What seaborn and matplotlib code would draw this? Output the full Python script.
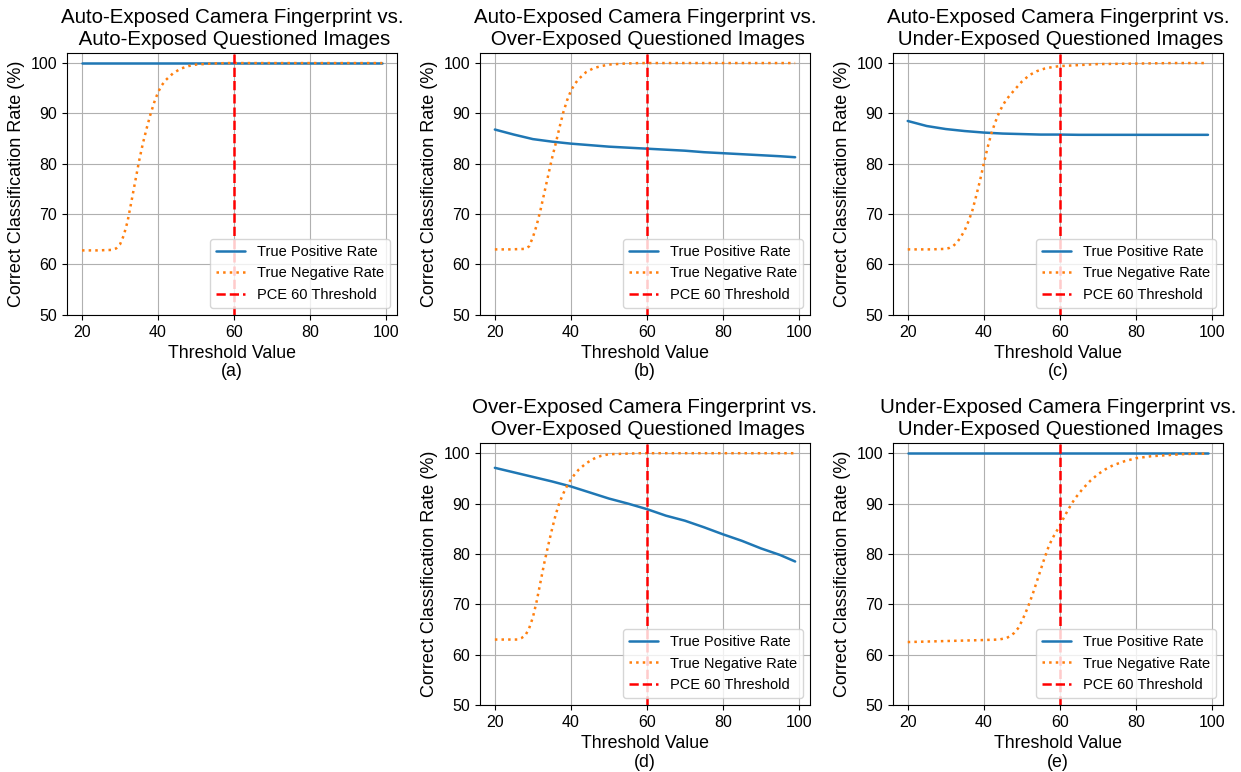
"""
Correct classification rate vs. PCE threshold for five exposure pairings
"""
import matplotlib
matplotlib.use("Agg")
import matplotlib.pyplot as plt
import seaborn as sns

# panel titles and sub-captions
titles = [
    "Auto-Exposed Camera Fingerprint vs.\n Auto-Exposed Questioned Images",
    "Auto-Exposed Camera Fingerprint vs.\n Over-Exposed Questioned Images",
    "Auto-Exposed Camera Fingerprint vs.\n Under-Exposed Questioned Images",
    "Over-Exposed Camera Fingerprint vs.\n Over-Exposed Questioned Images",
    "Under-Exposed Camera Fingerprint vs.\n Under-Exposed Questioned Images",
]
captions = ["(a)", "(b)", "(c)", "(d)", "(e)"]

# true positive rate
tpr_x = [20, 25, 30, 35, 40, 45, 50, 55, 60, 65, 70, 75, 80, 85, 90, 95, 99]
tpr_a = [100.0] * 17
tpr_b = [86.8, 85.8, 84.9, 84.4, 84.0, 83.7, 83.4, 83.2, 83.0, 82.8, 82.6, 82.3, 82.1, 81.9, 81.7, 81.5, 81.3]
tpr_c = [88.5, 87.5, 86.9, 86.5, 86.2, 86.0, 85.9, 85.8, 85.8, 85.75, 85.75, 85.75, 85.75, 85.75, 85.75, 85.75, 85.75]
tpr_d = [97.1, 96.2, 95.3, 94.4, 93.4, 92.2, 91.0, 90.0, 88.9, 87.6, 86.6, 85.3, 83.9, 82.6, 81.1, 79.8, 78.5]
tpr_e = [100.0] * 17

# true negative rate
tnr_x_a = [20, 24, 28, 29, 30, 31, 32, 33, 34, 35, 36, 37, 38, 39, 40, 41, 42, 44, 46, 48, 50, 54, 58, 60, 70, 80, 90, 99]
tnr_a = [62.8, 62.8, 62.9, 63.2, 64.0, 65.8, 68.6, 72.5, 76.5, 80.5, 84.0, 87.0, 89.8, 92.2, 94.2, 95.6, 96.6, 98.0, 98.9, 99.4, 99.7, 99.9, 100.0, 100.0, 100.0, 100.0, 100.0, 100.0]

tnr_x_b = [20, 24, 28, 29, 30, 31, 32, 33, 34, 35, 36, 37, 38, 39, 40, 41, 42, 44, 46, 48, 50, 54, 58, 60, 70, 80, 90, 99]
tnr_b = [63.0, 63.0, 63.1, 63.6, 65.4, 67.8, 70.8, 74.2, 77.6, 81.0, 84.0, 87.2, 90.2, 92.6, 94.5, 95.8, 96.8, 98.2, 99.0, 99.4, 99.7, 99.9, 100.0, 100.0, 100.0, 100.0, 100.0, 100.0]

tnr_x_c = [20, 26, 30, 31, 32, 33, 34, 35, 36, 37, 38, 39, 40, 41, 42, 43, 44, 45, 46, 48, 50, 52, 54, 56, 58, 60, 65, 70, 80, 90, 99]
tnr_c = [63.0, 63.0, 63.1, 63.3, 63.7, 64.4, 65.5, 66.8, 68.6, 70.7, 73.6, 76.6, 80.0, 83.2, 86.0, 88.2, 90.1, 91.6, 92.8, 94.6, 96.3, 97.6, 98.4, 98.9, 99.2, 99.4, 99.6, 99.8, 99.9, 100.0, 100.0]

tnr_x_d = [20, 24, 26, 27, 28, 29, 30, 31, 32, 33, 34, 35, 36, 37, 38, 39, 40, 41, 42, 44, 46, 48, 50, 54, 58, 60, 70, 80, 90, 99]
tnr_d = [63.0, 63.0, 63.0, 63.3, 63.8, 65.2, 67.4, 70.6, 74.4, 78.2, 81.6, 84.8, 87.8, 90.2, 92.0, 93.5, 94.8, 95.8, 96.7, 98.0, 98.9, 99.5, 99.8, 99.9, 100.0, 100.0, 100.0, 100.0, 100.0, 100.0]

tnr_x_e = [20, 25, 30, 35, 40, 44, 46, 47, 48, 49, 50, 51, 52, 53, 54, 55, 56, 57, 58, 59, 60, 61, 62, 63, 64, 66, 68, 70, 72, 74, 77, 80, 84, 88, 92, 96, 99]
tnr_e = [62.5, 62.6, 62.7, 62.8, 62.9, 63.0, 63.3, 63.7, 64.3, 65.2, 66.6, 68.3, 70.2, 72.3, 74.6, 76.9, 79.2, 81.3, 83.0, 84.3, 85.6, 87.1, 88.5, 89.8, 91.0, 92.9, 94.5, 95.8, 96.8, 97.6, 98.4, 99.0, 99.4, 99.6, 99.8, 99.9, 99.9]

tpr_all = [tpr_a, tpr_b, tpr_c, tpr_d, tpr_e]
tnr_x_all = [tnr_x_a, tnr_x_b, tnr_x_c, tnr_x_d, tnr_x_e]
tnr_all = [tnr_a, tnr_b, tnr_c, tnr_d, tnr_e]

pce_threshold = 60

sns.set_style("ticks", {"axes.grid": True})
plt.rcParams.update({
    "font.family": ["Liberation Sans", "DejaVu Sans"],
    "axes.edgecolor": "black",
    "text.color": "black",
    "axes.labelcolor": "black",
    "xtick.color": "black",
    "ytick.color": "black",
    "grid.color": "#b0b0b0",
    "grid.linewidth": 0.8,
    "axes.linewidth": 0.8,
})

fig, axes = plt.subplots(2, 3, figsize=(12.41, 7.72), dpi=100)
fig.subplots_adjust(left=67 / 1241, right=1223 / 1241, top=1 - 53 / 772,
                    bottom=1 - 705 / 772, wspace=0.25, hspace=0.49)
axes[1, 0].axis("off")

panel_axes = [axes[0, 0], axes[0, 1], axes[0, 2], axes[1, 1], axes[1, 2]]

for i, ax in enumerate(panel_axes):
    sns.lineplot(x=tpr_x, y=tpr_all[i], ax=ax, color="#1f77b4", linewidth=1.8,
                 label="True Positive Rate")
    sns.lineplot(x=tnr_x_all[i], y=tnr_all[i], ax=ax, color="#ff7f0e", linewidth=1.8,
                 linestyle=":", label="True Negative Rate")
    ax.axvline(pce_threshold, color="red", linestyle="--", linewidth=1.8,
               label="PCE 60 Threshold")

    ax.set_ylim(50, 102)
    ax.set_xlim(16.05, 102.95)
    ax.set_xticks([20, 40, 60, 80, 100])
    ax.set_yticks([50, 60, 70, 80, 90, 100])
    ax.tick_params(labelsize=11.5, length=3.5, width=0.8)
    ax.grid(True)

    ax.set_title(titles[i], fontsize=14.8)
    ax.set_xlabel("Threshold Value\n" + captions[i], fontsize=12.8, linespacing=1.1)
    ax.set_ylabel("Correct Classification Rate (%)", fontsize=13)
    ax.legend(loc="lower right", fontsize=10.5)

plt.savefig("out.png", dpi=100)
plt.close()
